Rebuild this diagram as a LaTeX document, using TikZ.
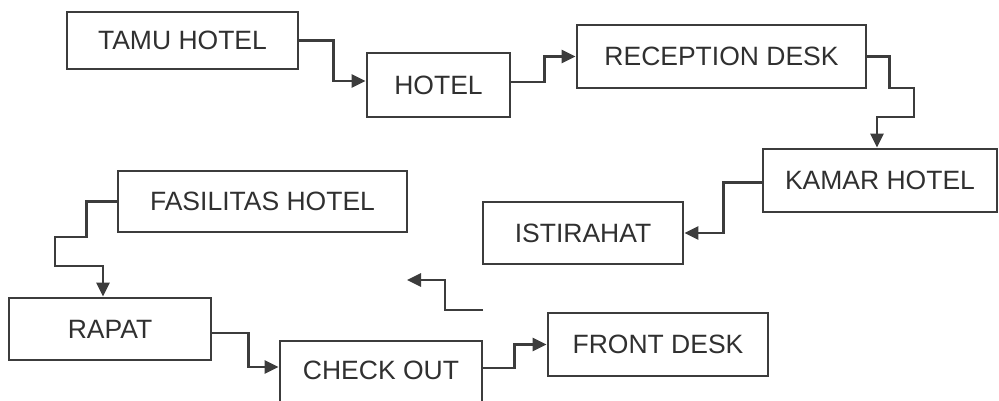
\documentclass[tikz,border=0pt]{standalone}
\usepackage{fontspec}
\setmainfont{Liberation Sans}
\usetikzlibrary{arrows.meta}
\definecolor{ink}{HTML}{3C3C3C}
\definecolor{txt}{HTML}{303030}
\begin{document}
\begin{tikzpicture}[x=1pt,y=-1pt,
  box/.style={draw=ink,line width=2.8pt,rectangle,inner sep=0pt,text=txt,
    font=\fontsize{26.5}{30}\selectfont},
  conn/.style={draw=ink,line width=2.8pt,-{Triangle[length=14pt,width=13pt]}}]
\useasboundingbox[fill=white] (0,0) rectangle (999,401);
\begin{scope}
\clip (0,0) rectangle (999,401);
\node[box,minimum width=231pt,minimum height=57pt] (tamu) at (182.5,40.5) {TAMU HOTEL};
\node[box,minimum width=143pt,minimum height=64pt] (hotel) at (438.5,85) {HOTEL};
\node[box,minimum width=289pt,minimum height=63pt] (rec) at (721.5,56.5) {RECEPTION DESK};
\node[box,minimum width=234pt,minimum height=63pt] (kamar) at (880,180.5) {KAMAR HOTEL};
\node[box,minimum width=200pt,minimum height=62pt] (ist) at (583,233) {ISTIRAHAT};
\node[box,minimum width=289pt,minimum height=61pt] (fas) at (262.5,201.5) {FASILITAS HOTEL};
\node[box,minimum width=202pt,minimum height=62pt] (rapat) at (110,329) {RAPAT};
\node[box,minimum width=202pt,minimum height=62pt,text depth=0pt] (co) at (381,372) {\raisebox{3pt}{CHECK OUT}};
\node[box,minimum width=220pt,minimum height=63pt] (front) at (658,344.5) {FRONT DESK};
\coordinate (s1) at (483,310);
\coordinate (s2) at (407,280);

\draw[conn] (tamu.east) -- ++(34,0) |- ([yshift=4pt]hotel.west);
\draw[conn] ([yshift=3pt]hotel.east) -- ++(33,0) |- (rec.west);
\draw[conn] (rec.east) -- ++(22,0) |- (914,88) |- ([xshift=-3pt]kamar.north |- 0,117) -- ([xshift=-3pt]kamar.north);
\draw[conn] ([yshift=-2pt]kamar.west) -- ++(-38,0) |- (ist.east);
\draw[conn] (fas.west) -- ++(-30,0) |- (55,237) |- ([xshift=-7pt]rapat.north |- 0,266) -- ([xshift=-7pt]rapat.north);
\draw[conn] ([yshift=-4pt]rapat.east) -- ++(36,0) |- ([yshift=5pt]co.west);
\draw[conn] ([yshift=4pt]co.east) -- ++(31,0) |- (front.west);
\draw[conn] (s1) -- (445,310) |- (s2);
\end{scope}
\end{tikzpicture}
\end{document}
